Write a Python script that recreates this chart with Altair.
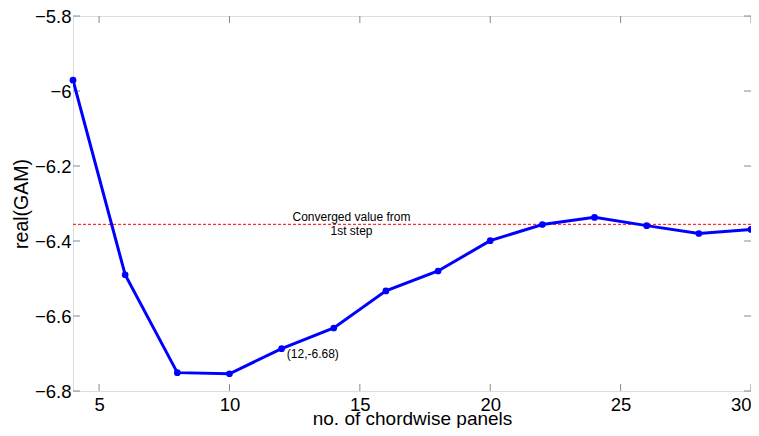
import altair as alt
import pandas as pd

# ---- data ----
panels = [4, 6, 8, 10, 12, 14, 16, 18, 20, 22, 24, 26, 28, 30]
gam_real = [-5.971, -6.490, -6.751, -6.754, -6.687, -6.632, -6.533,
            -6.480, -6.399, -6.356, -6.337, -6.359, -6.380, -6.369]
converged_value = -6.3555
x_ticks = [5, 10, 15, 20, 25, 30]
y_ticks = [-5.8, -6.0, -6.2, -6.4, -6.6, -6.8]
conv_text = ["Converged value from", "1st step"]
conv_text_x = [14.68, 14.68]
conv_text_y = [-6.336, -6.372]
pt_label = ["(12,-6.68)"]
pt_label_x = [12.2]
pt_label_y = [-6.702]

W, H = 678, 375
FONT = "Liberation Sans"
FRAME = "#8a8a8a"

df = pd.DataFrame({"x": panels, "y": gam_real})
xs = alt.Scale(domain=[4, 30], nice=False, zero=False)
ys = alt.Scale(domain=[-6.8, -5.8], nice=False, zero=False)

x_axis = alt.Axis(values=x_ticks, title="no. of chordwise panels", grid=False,
                  ticks=False, domain=False, labelFont=FONT, labelFontSize=18.5,
                  labelColor="black", labelPadding=4, titleFont=FONT, titleFontSize=19,
                  titleFontWeight="normal", titleColor="black", titleBaseline="alphabetic",
                  titleY=33, labelFlush=True)
y_axis = alt.Axis(values=y_ticks, title="real(GAM)", grid=False, ticks=False, domain=False,
                  format=".1~f", labelFont=FONT, labelFontSize=18.5, labelColor="black",
                  labelPadding=2, titleFont=FONT, titleFontSize=19.5, titleFontWeight="normal",
                  titleColor="black", titleBaseline="alphabetic", titleX=-46, titleY=H / 2,
                  titleAlign="center", titleAngle=-90, labelFlush=False)

line = alt.Chart(df).mark_line(color="#0000ff", strokeWidth=3, clip=True).encode(
    x=alt.X("x:Q", scale=xs, axis=x_axis),
    y=alt.Y("y:Q", scale=ys, axis=y_axis),
)
points = alt.Chart(df).mark_circle(color="#0000ff", size=45, opacity=1).encode(
    x=alt.X("x:Q", scale=xs), y=alt.Y("y:Q", scale=ys))

conv_df = pd.DataFrame({"x": [panels[0]], "x2": [panels[-1]], "y": [converged_value]})
conv = alt.Chart(conv_df).mark_rule(color="#ff0000", strokeWidth=1, strokeDash=[3, 2]).encode(
    x=alt.X("x:Q", scale=xs), x2="x2:Q", y=alt.Y("y:Q", scale=ys))

ct_df = pd.DataFrame({"x": conv_text_x, "y": conv_text_y, "t": conv_text})
conv_lbl = alt.Chart(ct_df).mark_text(font=FONT, fontSize=12, color="black",
                                      align="center", baseline="middle").encode(
    x=alt.X("x:Q", scale=xs), y=alt.Y("y:Q", scale=ys), text="t:N")

pl_df = pd.DataFrame({"x": pt_label_x, "y": pt_label_y, "t": pt_label})
pt_lbl = alt.Chart(pl_df).mark_text(font=FONT, fontSize=12, color="black",
                                    align="left", baseline="middle").encode(
    x=alt.X("x:Q", scale=xs), y=alt.Y("y:Q", scale=ys), text="t:N")

# inward ticks (MATLAB-style box)
xt_df = pd.DataFrame({"x": x_ticks})
yt_df = pd.DataFrame({"y": y_ticks})
TL = 7
xt_bot = alt.Chart(xt_df).mark_rule(color=FRAME, strokeWidth=1).encode(
    x=alt.X("x:Q", scale=xs), y=alt.value(H), y2=alt.value(H - TL))
xt_top = alt.Chart(xt_df).mark_rule(color=FRAME, strokeWidth=1).encode(
    x=alt.X("x:Q", scale=xs), y=alt.value(0), y2=alt.value(TL))
yt_left = alt.Chart(yt_df).mark_rule(color=FRAME, strokeWidth=1).encode(
    y=alt.Y("y:Q", scale=ys), x=alt.value(0), x2=alt.value(TL))
yt_right = alt.Chart(yt_df).mark_rule(color=FRAME, strokeWidth=1).encode(
    y=alt.Y("y:Q", scale=ys), x=alt.value(W - TL), x2=alt.value(W))

chart = alt.layer(xt_bot, xt_top, yt_left, yt_right, conv, line, points, conv_lbl, pt_lbl).properties(
    width=W, height=H,
    autosize=alt.AutoSizeParams(type="none"),
    padding={"left": 65, "top": 8, "right": 0, "bottom": 37},
).configure_view(stroke=FRAME, strokeWidth=1.2).configure(background="white")

chart.save("out.html", embed_options={"renderer": "svg", "actions": False})
